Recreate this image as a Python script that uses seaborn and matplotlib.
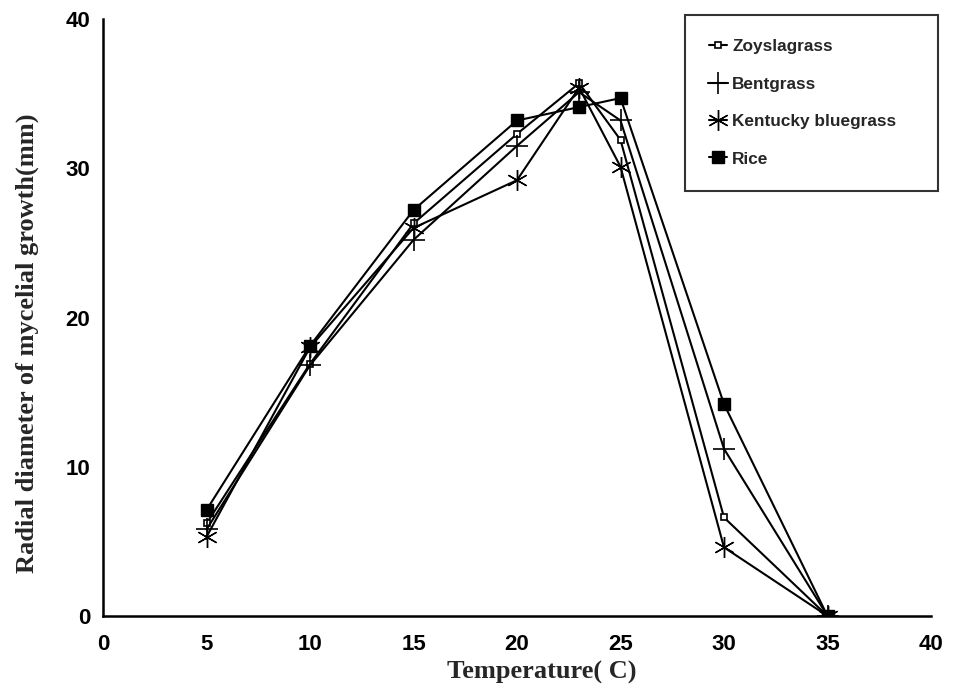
import matplotlib
matplotlib.use("Agg")
import matplotlib.pyplot as plt
import seaborn as sns
import pandas as pd

temps = [5, 10, 15, 20, 23, 25, 30, 35]
zoysia = [6.2, 16.9, 26.3, 32.3, 35.7, 31.9, 6.6, 0]
bent = [5.8, 16.8, 25.2, 31.5, 35.1, 33.2, 11.2, 0]
kentucky = [5.3, 18.0, 26.0, 29.2, 35.4, 30.1, 4.6, 0]
rice = [7.1, 18.1, 27.2, 33.2, 34.1, 34.7, 14.2, 0]
names = ["Zoyslagrass", "Bentgrass", "Kentucky bluegrass", "Rice"]
x_ticks = [0, 5, 10, 15, 20, 25, 30, 35, 40]
y_ticks = [0, 10, 20, 30, 40]

sns.set_style("white")
plt.rcParams["font.family"] = ["Liberation Sans", "DejaVu Sans"]

df = pd.DataFrame({"temp": temps, names[0]: zoysia, names[1]: bent,
                   names[2]: kentucky, names[3]: rice})

styles = {
    names[0]: dict(marker="s", markersize=5, markerfacecolor="white", markeredgewidth=1.2),
    names[1]: dict(marker="+", markersize=16, markeredgewidth=1.2),
    names[2]: dict(marker=(6, 2, 0), markersize=15, markeredgewidth=1.0),
    names[3]: dict(marker="s", markersize=8, markerfacecolor="black", markeredgewidth=1.0),
}

fig = plt.figure(figsize=(9.56, 6.93), dpi=100)
ax = fig.add_axes([103 / 956, 1 - 616 / 693, 828 / 956, 597 / 693])

for name in names:
    sns.lineplot(data=df, x="temp", y=name, ax=ax, color="black", linewidth=1.5,
                 markeredgecolor="black", label=name, **styles[name])

ax.set_xlim(0, 40)
ax.set_ylim(0, 40)
ax.set_xticks(x_ticks)
ax.set_yticks(y_ticks)
sns.despine(ax=ax)
for s in ["left", "bottom"]:
    ax.spines[s].set_color("black")
    ax.spines[s].set_linewidth(1.8)
ax.tick_params(axis="both", length=0, labelsize=16, colors="black")
ax.tick_params(axis="x", pad=13)
ax.tick_params(axis="y", pad=9)
for lbl in ax.get_xticklabels() + ax.get_yticklabels():
    lbl.set_fontweight("bold")

serif = ["Liberation Serif", "DejaVu Serif"]
ax.set_xlabel("Temperature( C)", fontsize=19, fontweight="bold", family=serif)
ax.set_ylabel("Radial diameter of mycelial growth(mm)", fontsize=19, fontweight="bold", family=serif)
ax.xaxis.set_label_coords((542 - 103) / 828, -(661 - 616) / 597)
ax.yaxis.set_label_coords(-(103 - 39) / 828, (616 - 343) / 597)

leg = ax.legend(loc="upper left",
                bbox_to_anchor=((685 - 103) / 828, (616 - 192) / 597, (938 - 685) / 828, (192 - 15) / 597),
                mode="expand", borderaxespad=0, frameon=True, fancybox=False, edgecolor="black",
                handlelength=1.05, handletextpad=0.3, labelspacing=1.3, borderpad=1.4,
                prop={"weight": "bold", "size": 12.4})
leg.get_frame().set_linewidth(1.5)

fig.savefig("out.png", dpi=100)
